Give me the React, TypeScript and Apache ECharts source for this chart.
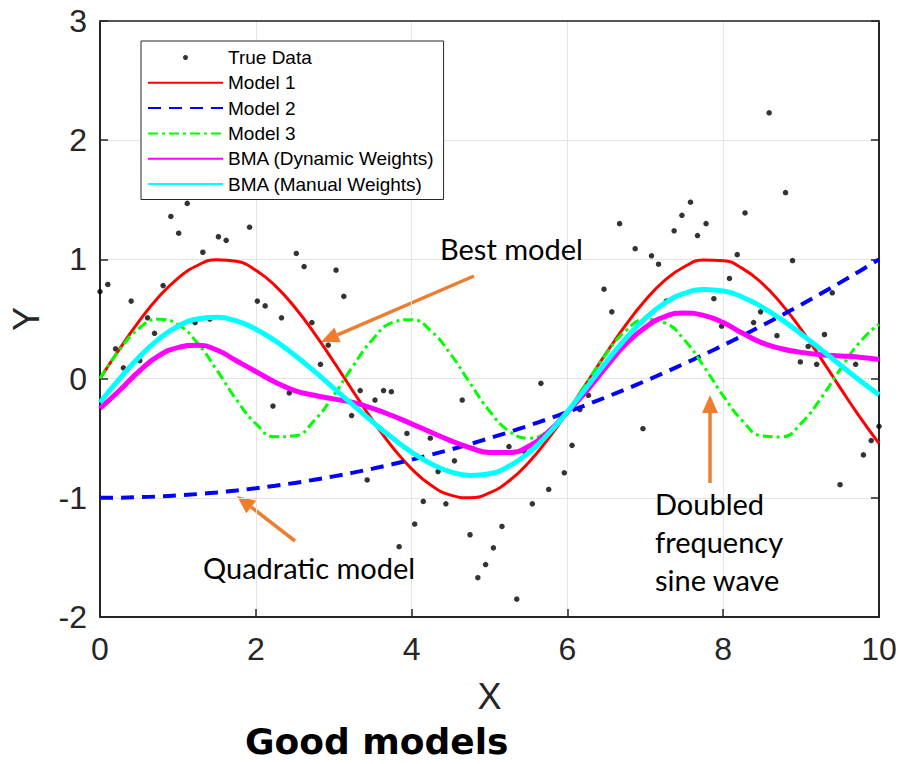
import React, { useEffect, useRef } from "react";
import * as echarts from "echarts";

// ---- data ----
const xGrid = [0, 0.25, 0.5, 0.75, 1, 1.25, 1.5, 1.75, 2, 2.25, 2.5, 2.75, 3, 3.25, 3.5, 3.75, 4, 4.25, 4.5, 4.75, 5, 5.25, 5.5, 5.75, 6, 6.25, 6.5, 6.75, 7, 7.25, 7.5, 7.75, 8, 8.25, 8.5, 8.75, 9, 9.25, 9.5, 9.75, 10];

const model1Values = [0, 0.2474, 0.4794, 0.6816, 0.8415, 0.949, 0.9975, 0.984, 0.9093, 0.7781, 0.5985, 0.3817, 0.1411, -0.1081, -0.3508, -0.5716, -0.7568, -0.895, -0.9775, -0.9993, -0.9589, -0.8589, -0.7055, -0.5083, -0.2794, -0.0332, 0.2151, 0.45, 0.657, 0.8231, 0.938, 0.9946, 0.9894, 0.9228, 0.7985, 0.6247, 0.4121, 0.1743, -0.0752, -0.3195, -0.544];

const model2Values = [-1, -0.9988, -0.995, -0.9888, -0.98, -0.9688, -0.955, -0.9388, -0.92, -0.8988, -0.875, -0.8488, -0.82, -0.7888, -0.755, -0.7188, -0.68, -0.6388, -0.595, -0.5488, -0.5, -0.4488, -0.395, -0.3388, -0.28, -0.2188, -0.155, -0.0888, -0.02, 0.0513, 0.125, 0.2013, 0.28, 0.3613, 0.445, 0.5313, 0.62, 0.7113, 0.805, 0.9013, 1.0];

const model3Values = [0, 0.2397, 0.4207, 0.4987, 0.4546, 0.2992, 0.0706, -0.1754, -0.3784, -0.4888, -0.4795, -0.3528, -0.1397, 0.1075, 0.3285, 0.469, 0.4947, 0.3992, 0.2061, -0.0376, -0.272, -0.4398, -0.5, -0.4377, -0.2683, -0.0332, 0.2101, 0.4019, 0.4953, 0.4675, 0.3252, 0.1033, -0.144, -0.3559, -0.4807, -0.4893, -0.3755, -0.1692, 0.075, 0.3028, 0.4565];

const bmaDynamicValues = [-0.25, -0.1, 0.06, 0.19, 0.26, 0.28, 0.24, 0.15, 0.06, -0.03, -0.1, -0.14, -0.17, -0.2, -0.25, -0.31, -0.38, -0.45, -0.52, -0.58, -0.62, -0.62, -0.57, -0.45, -0.28, -0.1, 0.1, 0.29, 0.43, 0.52, 0.55, 0.53, 0.47, 0.38, 0.3, 0.25, 0.22, 0.2, 0.19, 0.18, 0.16];

const bmaManualValues = [-0.2, -0.0026, 0.1787, 0.3292, 0.4385, 0.5005, 0.5143, 0.4835, 0.4147, 0.3161, 0.196, 0.0622, -0.0792, -0.2227, -0.3637, -0.497, -0.6163, -0.7143, -0.7827, -0.813, -0.7984, -0.7349, -0.6229, -0.4673, -0.2784, -0.0703, 0.1406, 0.3374, 0.5054, 0.6332, 0.7141, 0.7468, 0.7342, 0.6827, 0.5999, 0.4946, 0.375, 0.2473, 0.1159, -0.0131, -0.1352];

const trueDataX = [0.0, 0.1, 0.2, 0.3, 0.4, 0.51, 0.61, 0.7, 0.81, 0.91, 1.01, 1.12, 1.22, 1.32, 1.41, 1.52, 1.62, 1.92, 2.02, 2.12, 2.22, 2.33, 2.43, 2.52, 2.62, 2.72, 2.83, 2.93, 3.03, 3.13, 3.23, 3.34, 3.43, 3.53, 3.64, 3.74, 3.84, 3.94, 4.04, 4.15, 4.24, 4.34, 4.44, 4.55, 4.65, 4.75, 4.85, 4.95, 5.05, 5.16, 5.25, 5.35, 5.45, 5.55, 5.66, 5.76, 5.96, 6.06, 6.16, 6.27, 6.47, 6.57, 6.67, 6.87, 6.97, 7.08, 7.17, 7.27, 7.37, 7.47, 7.58, 7.67, 7.78, 7.88, 7.98, 8.08, 8.18, 8.28, 8.39, 8.48, 8.59, 8.69, 8.8, 8.89, 8.99, 9.09, 9.2, 9.3, 9.4, 9.5, 9.7, 9.8, 9.9, 10.0];

const trueDataY = [0.73, 0.79, 0.25, 0.09, 0.65, 0.15, 0.51, 0.38, 0.78, 1.36, 1.22, 1.47, 0.47, 1.06, 0.5, 1.19, 1.16, 1.27, 0.65, 0.61, -0.23, 0.51, -0.12, 1.05, 0.94, 0.47, 0.12, 0.28, 0.91, 0.69, -0.31, -0.1, -0.85, -0.18, -0.1, -0.11, -1.41, -0.46, -1.22, -1.03, -0.5, -0.78, -1.05, -0.69, -0.18, -1.31, -1.67, -1.56, -1.42, -1.24, -0.57, -1.85, -0.61, -1.05, -0.04, -0.93, -0.79, -0.56, -0.26, -0.14, 0.75, 0.56, 1.3, 1.09, -0.42, 1.03, 0.96, 0.65, 1.24, 1.37, 1.48, 1.2, 1.3, 0.67, 0.44, 0.84, 1.04, 1.39, 0.47, 0.56, 2.23, 0.36, 1.56, 0.99, 0.14, 0.27, 0.12, 0.37, 0.72, -0.89, 0.12, -0.64, -0.52, -0.4];

const seriesNames = ["True Data", "Model 1", "Model 2", "Model 3", "BMA (Dynamic Weights)", "BMA (Manual Weights)"];

const zip = (xs: number[], ys: number[]) => xs.map((x, i) => [x, ys[i]]);

const AXIS_FONT = "'Liberation Sans', Arial, Helvetica, sans-serif";
const NOTE_FONT = "Lato, 'Open Sans', sans-serif";
const AX = "#262626";
const ORANGE = "#ED7D31";

function arrow(tail: number[], tip: number[], headLen: number, headHalf: number) {
  const dx = tip[0] - tail[0];
  const dy = tip[1] - tail[1];
  const len = Math.sqrt(dx * dx + dy * dy);
  const ux = dx / len;
  const uy = dy / len;
  const bx = tip[0] - headLen * ux;
  const by = tip[1] - headLen * uy;
  const nx = -uy;
  const ny = ux;
  return {
    type: "group",
    z: 50,
    children: [
      { type: "line", shape: { x1: tail[0], y1: tail[1], x2: bx, y2: by }, style: { stroke: ORANGE, lineWidth: 3.5 } },
      {
        type: "polygon",
        shape: { points: [[bx + headHalf * nx, by + headHalf * ny], tip, [bx - headHalf * nx, by - headHalf * ny]] },
        style: { fill: ORANGE },
      },
    ],
  };
}

function note(text: string, x: number, y: number, size: number, bold = false, family = NOTE_FONT) {
  return {
    type: "text",
    z: 50,
    x,
    y,
    style: {
      text,
      fill: "#000",
      font: `${bold ? "bold " : ""}${size}px ${family}`,
      textAlign: "left",
      textVerticalAlign: "middle",
    },
  };
}

const lineSeries = (name: string, values: number[], color: string, width: number, type: any) => ({
  name,
  type: "line",
  data: zip(xGrid, values),
  smooth: 0.5,
  symbol: "none",
  showSymbol: false,
  lineStyle: { color, width, type },
  itemStyle: { color },
  emphasis: { disabled: true },
  z: 3,
});

export default function App() {
  const ref = useRef<HTMLDivElement>(null);
  useEffect(() => {
    const chart = echarts.init(ref.current!, null, { renderer: "svg" });
    const axisLineStyle = { color: AX, width: 2 };
    chart.setOption({
      animation: false,
      backgroundColor: "#fff",
      grid: { left: 96, right: 21, top: 21, bottom: 147 },
      legend: {
        data: [
          { name: seriesNames[0], icon: "circle" },
          ...seriesNames.slice(1).map((n) => ({ name: n, itemStyle: { opacity: 0 } })),
        ],
        orient: "vertical",
        left: 141,
        top: 41,
        itemWidth: 75,
        itemHeight: 5,
        itemGap: 6.3,
        padding: [7, 9, 6, 6],
        borderColor: AX,
        borderWidth: 1,
        borderRadius: 0,
        backgroundColor: "#fff",
        selectedMode: false,
        textStyle: { fontSize: 19, color: "#000", fontFamily: "'Liberation Sans', Arial, sans-serif" },
        z: 20,
      },
      xAxis: [
        {
          type: "value",
          min: 0,
          max: 10,
          interval: 2,
          position: "bottom",
          name: "X",
          nameLocation: "middle",
          nameGap: 61,
          nameTextStyle: { fontSize: 36, color: AX, fontFamily: AXIS_FONT },
          axisLine: { show: true, onZero: false, lineStyle: axisLineStyle },
          axisTick: { show: true, inside: true, length: 8, lineStyle: { color: AX, width: 1.5 } },
          axisLabel: { fontSize: 32, color: AX, fontFamily: AXIS_FONT, margin: 16 },
          splitLine: { show: true, lineStyle: { color: "#e4e4e4", width: 1 } },
        },
        {
          type: "value",
          min: 0,
          max: 10,
          interval: 2,
          position: "top",
          axisLine: { show: true, onZero: false, lineStyle: { color: "#555", width: 2 } },
          axisTick: { show: false },
          axisLabel: { show: false },
          splitLine: { show: false },
        },
      ],
      yAxis: [
        {
          type: "value",
          min: -2,
          max: 3,
          interval: 1,
          position: "left",
          name: "Y",
          nameLocation: "middle",
          nameRotate: 90,
          nameGap: 56,
          nameTextStyle: { fontSize: 36, color: AX, fontFamily: AXIS_FONT },
          axisLine: { show: true, onZero: false, lineStyle: axisLineStyle },
          axisTick: { show: true, inside: true, length: 8, lineStyle: { color: AX, width: 1.5 } },
          axisLabel: { fontSize: 32, color: AX, fontFamily: AXIS_FONT, margin: 13 },
          splitLine: { show: true, lineStyle: { color: "#e4e4e4", width: 1 } },
        },
        {
          type: "value",
          min: -2,
          max: 3,
          interval: 1,
          position: "right",
          axisLine: { show: true, onZero: false, lineStyle: axisLineStyle },
          axisTick: { show: true, inside: true, length: 8, lineStyle: { color: AX, width: 1.5 } },
          axisLabel: { show: false },
          splitLine: { show: false },
        },
      ],
      series: [
        {
          name: seriesNames[0],
          type: "scatter",
          data: zip(trueDataX, trueDataY),
          symbol: "circle",
          symbolSize: 5.5,
          itemStyle: { color: "#000" },
          emphasis: { disabled: true },
          z: 2,
        },
        lineSeries(seriesNames[1], model1Values, "#ff0000", 3, "solid"),
        lineSeries(seriesNames[2], model2Values, "#0000ff", 4, [13, 8]),
        lineSeries(seriesNames[3], model3Values, "#00ff00", 3, [10, 4, 3, 4]),
        lineSeries(seriesNames[4], bmaDynamicValues, "#ff00ff", 5, "solid"),
        lineSeries(seriesNames[5], bmaManualValues, "#00ffff", 5, "solid"),
      ],
      graphic: [
        arrow([474, 276], [321, 342], 18, 8),
        arrow([295, 541], [237, 496], 18, 8),
        arrow([710, 483], [710, 395], 18, 8),
        note("Best model", 440, 248, 29),
        note("Quadratic model", 203, 567, 29),
        note("Doubled", 655, 503, 29),
        note("frequency", 655, 541, 29),
        note("sine wave", 655, 579, 29),
        note("Good models", 245, 741, 36, true, "'DejaVu Sans', 'Open Sans', sans-serif"),
      ],
    });
    return () => chart.dispose();
  }, []);
  return <div ref={ref} style={{ position: "fixed", left: 0, top: 0, width: 900, height: 764 }} />;
}
